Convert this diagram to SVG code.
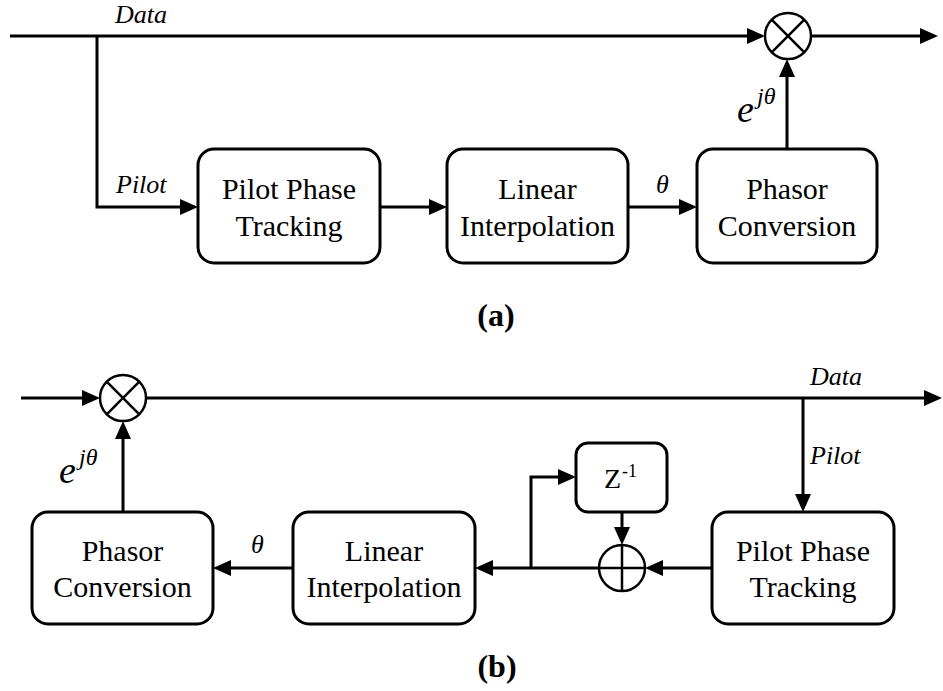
<svg xmlns="http://www.w3.org/2000/svg" width="943" height="691" viewBox="0 0 943 691" font-family="'Liberation Serif', 'DejaVu Serif', 'Times New Roman', serif">
  <style>
    .box { fill: #fff; stroke: #000; stroke-width: 3; }
    .wire { fill: none; stroke: #000; stroke-width: 3; marker-end: url(#arrow); }
    .op { fill: #fff; stroke: #000; stroke-width: 2.5; }
    .opmark { stroke: #000; stroke-width: 2.5; }
    .lbl { font-size: 30px; fill: #000; text-anchor: middle; }
    .sig { font-size: 26px; font-style: italic; fill: #000; }
    .exp { font-style: italic; fill: #000; }
    .up { font-style: normal; fill: #000; }
    .cap { font-size: 32px; font-weight: bold; fill: #000; text-anchor: middle; }
  </style>
  <defs>
    <marker id="arrow" viewBox="0 0 18 16" markerWidth="18" markerHeight="16" refX="8" refY="8" orient="auto" markerUnits="userSpaceOnUse">
      <path d="M0,0 L18,8 L0,16 Z" fill="#000"/>
    </marker>
  </defs>

  <!-- (a) forward structure -->
  <g id="connectors-a">
    <path class="wire" d="M10,36 H755"/>
    <path class="wire" d="M811,36 H928"/>
    <path class="wire" d="M97,36 V207 H188"/>
    <path class="wire" d="M380,207 H437"/>
    <path class="wire" d="M628,207 H687"/>
    <path class="wire" d="M787,149 V69"/>
  </g>

  <g id="a-mixer">
    <circle class="op" cx="788" cy="36" r="23"/>
    <line class="opmark" x1="771.7" y1="19.7" x2="804.3" y2="52.3"/>
    <line class="opmark" x1="804.3" y1="19.7" x2="771.7" y2="52.3"/>
  </g>

  <g id="a-pilot-tracking">
    <rect class="box" x="198" y="149" width="182" height="114" rx="16"/>
    <text class="lbl" x="289" y="199">Pilot Phase</text>
    <text class="lbl" x="289" y="236">Tracking</text>
  </g>
  <g id="a-interpolation">
    <rect class="box" x="447" y="149" width="181" height="114" rx="16"/>
    <text class="lbl" x="537.5" y="199">Linear</text>
    <text class="lbl" x="537.5" y="236">Interpolation</text>
  </g>
  <g id="a-phasor">
    <rect class="box" x="697" y="149" width="180" height="114" rx="16"/>
    <text class="lbl" x="787" y="199">Phasor</text>
    <text class="lbl" x="787" y="236">Conversion</text>
  </g>

  <g id="a-labels">
    <text class="sig" x="115" y="23">Data</text>
    <text class="sig" x="116" y="193">Pilot</text>
    <text class="sig" x="656" y="193">θ</text>
    <text class="exp" x="737" y="122" font-size="38">e</text>
    <text class="exp" x="757" y="104" font-size="24">jθ</text>
    <text class="cap" x="496" y="326">(a)</text>
  </g>

  <!-- (b) feedback structure -->
  <g id="connectors-b">
    <path class="wire" d="M21,398 H90"/>
    <path class="wire" d="M146,398 H932"/>
    <path class="wire" d="M803,398 V502"/>
    <path class="wire" d="M712,568 H655"/>
    <path class="wire" d="M599,568 H485"/>
    <path class="wire" d="M531,568 V477 H566"/>
    <path class="wire" d="M622,512 V535"/>
    <path class="wire" d="M293,568 H223"/>
    <path class="wire" d="M123,512 V431"/>
  </g>

  <g id="b-mixer">
    <circle class="op" cx="123" cy="398" r="23"/>
    <line class="opmark" x1="106.7" y1="381.7" x2="139.3" y2="414.3"/>
    <line class="opmark" x1="139.3" y1="381.7" x2="106.7" y2="414.3"/>
  </g>

  <g id="b-adder">
    <circle class="op" cx="622" cy="568" r="23"/>
    <line class="opmark" x1="622" y1="545" x2="622" y2="591"/>
    <line class="opmark" x1="599" y1="568" x2="645" y2="568"/>
  </g>

  <g id="b-delay">
    <rect class="box" x="576" y="443" width="91" height="69" rx="12"/>
    <text class="up" x="604" y="488" font-size="28">Z</text>
    <text class="up" x="622" y="477" font-size="18">-1</text>
  </g>

  <g id="b-pilot-tracking">
    <rect class="box" x="712" y="512" width="182" height="112" rx="16"/>
    <text class="lbl" x="803" y="561">Pilot Phase</text>
    <text class="lbl" x="803" y="597">Tracking</text>
  </g>
  <g id="b-interpolation">
    <rect class="box" x="293" y="512" width="182" height="112" rx="16"/>
    <text class="lbl" x="384" y="561">Linear</text>
    <text class="lbl" x="384" y="597">Interpolation</text>
  </g>
  <g id="b-phasor">
    <rect class="box" x="32" y="512" width="181" height="112" rx="16"/>
    <text class="lbl" x="122.5" y="561">Phasor</text>
    <text class="lbl" x="122.5" y="597">Conversion</text>
  </g>

  <g id="b-labels">
    <text class="sig" x="810" y="385">Data</text>
    <text class="sig" x="810" y="464">Pilot</text>
    <text class="sig" x="251" y="553">θ</text>
    <text class="exp" x="59" y="483" font-size="38">e</text>
    <text class="exp" x="79" y="465" font-size="24">jθ</text>
    <text class="cap" x="497" y="677">(b)</text>
  </g>
</svg>
